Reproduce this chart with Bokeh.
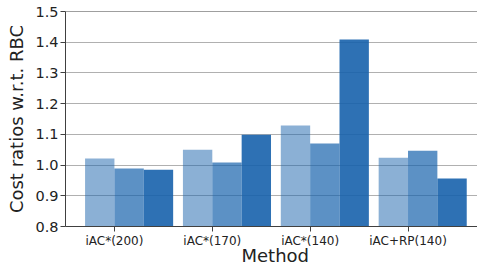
from bokeh.plotting import figure
from bokeh.models import Range1d, FixedTicker, Span, Title
from bokeh.embed import file_html
from bokeh.resources import INLINE

methods = ["iAC*(200)", "iAC*(170)", "iAC*(140)", "iAC+RP(140)"]
series_a = [1.021, 1.050, 1.129, 1.024]
series_b = [0.989, 1.008, 1.070, 1.047]
series_c = [0.985, 1.099, 1.409, 0.956]
y_ticks = [0.8, 0.9, 1.0, 1.1, 1.2, 1.3, 1.4, 1.5]
x_title = "Method"
y_title = "Cost ratios w.r.t. RBC"

base = "#1762AC"
alphas = [0.5, 0.7, 0.9]
bar_w = 0.3

p = figure(width=477, height=264, output_backend="svg", toolbar_location=None,
           x_range=Range1d(-0.5, 3.71), y_range=Range1d(0.8, 1.5),
           min_border_left=65, min_border_right=0, min_border_top=11, min_border_bottom=38)
p.outline_line_color = None
p.background_fill_color = "white"
p.border_fill_color = "white"

idx = list(range(len(methods)))
for k, vals in enumerate([series_a, series_b, series_c]):
    xs = [i - bar_w / 2 + k * bar_w for i in idx]
    p.vbar(x=xs, top=vals, bottom=0.8, width=bar_w, fill_color=base,
           fill_alpha=alphas[k], line_color=None)

p.add_layout(Span(location=1.5, dimension="width", line_color="#404040", line_width=1))

p.xgrid.grid_line_color = None
p.ygrid.grid_line_color = "#b0b0b0"
p.ygrid.grid_line_width = 1
p.ygrid.ticker = FixedTicker(ticks=y_ticks)

p.xaxis.ticker = FixedTicker(ticks=idx)
p.xaxis.major_label_overrides = {i: m for i, m in enumerate(methods)}
p.yaxis.ticker = FixedTicker(ticks=y_ticks)
p.yaxis.major_label_overrides = {t: f"{t:.1f}" for t in y_ticks}

for ax in (p.xaxis[0], p.yaxis[0]):
    ax.axis_line_color = "#404040"
    ax.major_tick_line_color = "#404040"
    ax.major_tick_out = 5
    ax.major_tick_in = 0
    ax.minor_tick_line_color = None
    ax.major_label_text_font = "DejaVu Sans"
    ax.major_label_text_color = "#222222"
    ax.axis_label_text_font = "DejaVu Sans"
    ax.axis_label_text_font_style = "normal"
    ax.axis_label_text_color = "#222222"
    ax.axis_label_text_font_size = "18px"

p.xaxis.major_label_text_font_size = "12px"
p.yaxis.major_label_text_font_size = "14.5px"
p.yaxis.axis_label = y_title
p.xaxis.major_label_standoff = 2
p.yaxis.major_label_standoff = 2
p.yaxis.axis_label_standoff = 5

xt = Title(text=x_title, align="left", offset=176, standoff=-12,
           vertical_align="top", text_baseline="top",
           text_font="DejaVu Sans", text_font_size="18px",
           text_font_style="normal", text_color="#222222")
p.add_layout(xt, "below")

open("out.html", "w").write(file_html(p, INLINE))
